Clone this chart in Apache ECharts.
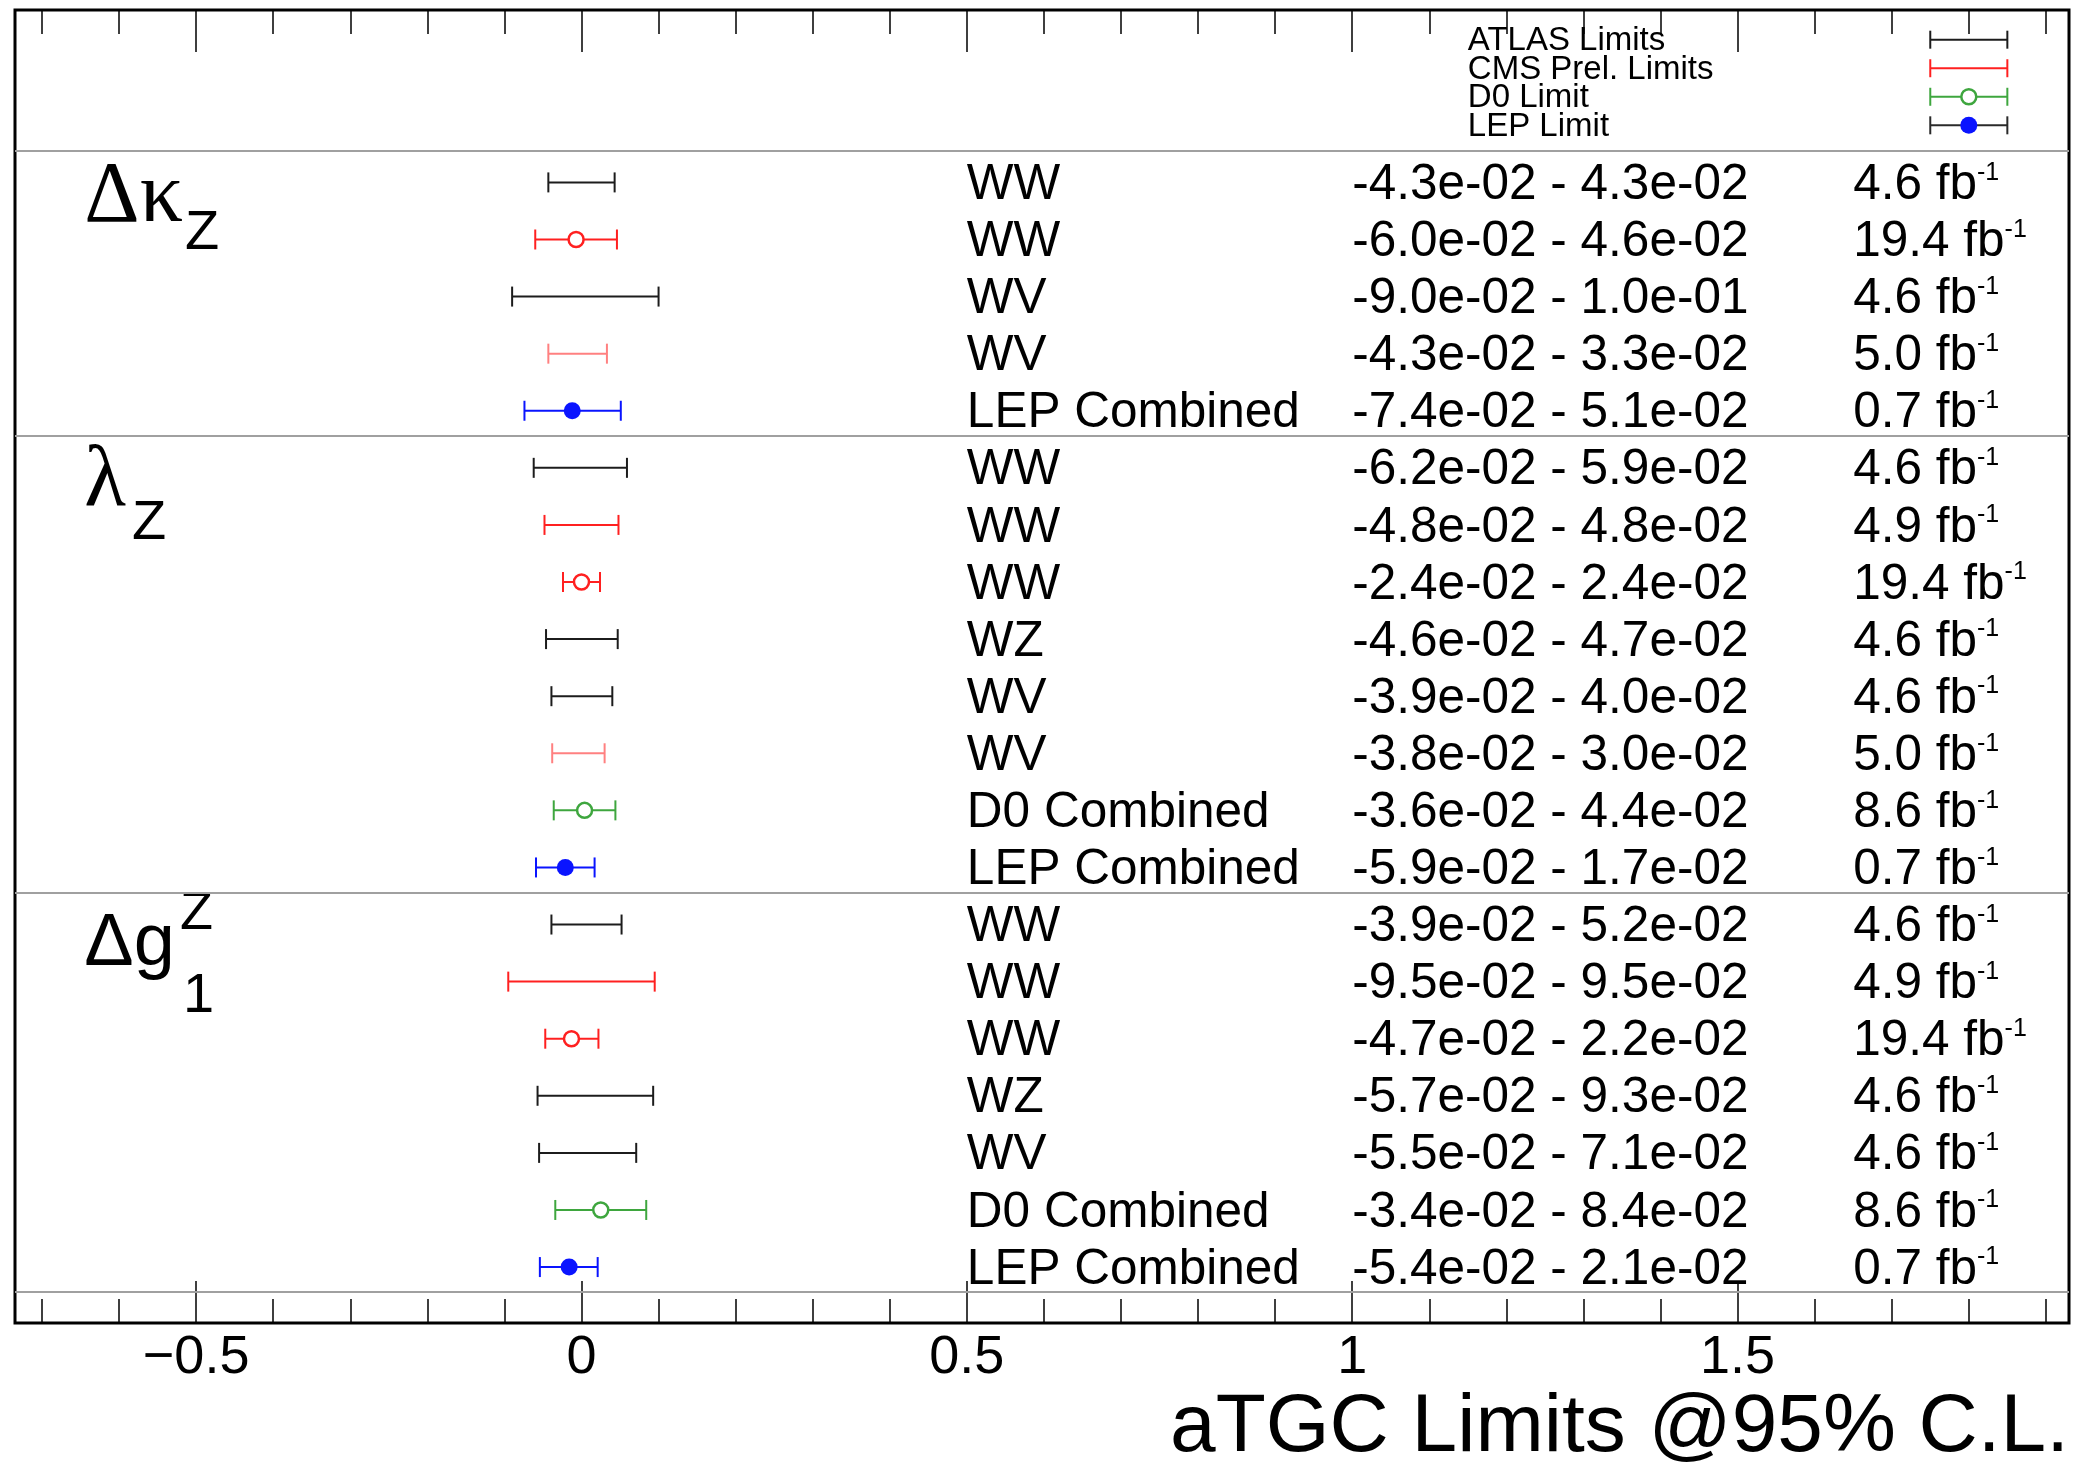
<!DOCTYPE html>
<html>
<head>
<meta charset="utf-8">
<title>aTGC Limits @95% C.L.</title>
<script src="https://cdn.jsdelivr.net/npm/echarts@6/dist/echarts.min.js"></script>
<style>
html, body { margin: 0; padding: 0; background: #fff; }
#main { width: 2077px; height: 1463px; }
</style>
</head>
<body>
<div id="main"></div>
<script>
// one entry per row, top to bottom
const experiments = ['ATLAS', 'CMS', 'ATLAS', 'CMS-WV', 'LEP',
    'ATLAS', 'CMS', 'CMS', 'ATLAS', 'ATLAS', 'CMS-WV', 'D0', 'LEP',
    'ATLAS', 'CMS', 'CMS', 'ATLAS', 'ATLAS', 'D0', 'LEP'];
const processes = ['WW', 'WW', 'WV', 'WV', 'LEP Combined',
    'WW', 'WW', 'WW', 'WZ', 'WV', 'WV', 'D0 Combined', 'LEP Combined',
    'WW', 'WW', 'WW', 'WZ', 'WV', 'D0 Combined', 'LEP Combined'];
const lowLimits = [-0.043, -0.060, -0.090, -0.043, -0.074,
    -0.062, -0.048, -0.024, -0.046, -0.039, -0.038, -0.036, -0.059,
    -0.039, -0.095, -0.047, -0.057, -0.055, -0.034, -0.054];
const highLimits = [0.043, 0.046, 0.100, 0.033, 0.051,
    0.059, 0.048, 0.024, 0.047, 0.040, 0.030, 0.044, 0.017,
    0.052, 0.095, 0.022, 0.093, 0.071, 0.084, 0.021];
// central values (only drawn where a marker is shown)
const centres = [null, -0.007, null, null, -0.012,
    null, null, 0.000, null, null, null, 0.004, -0.021,
    null, null, -0.013, null, null, 0.025, -0.016];
const lumis = ['4.6', '19.4', '4.6', '5.0', '0.7',
    '4.6', '4.9', '19.4', '4.6', '4.6', '5.0', '8.6', '0.7',
    '4.6', '4.9', '19.4', '4.6', '4.6', '8.6', '0.7'];

// coupling labels and the row each block starts on
const paramMain = ['Δκ', 'λ', 'Δg'];
const paramSub = ['Z', 'Z', '1'];
const paramSup = ['', '', 'Z'];
const paramRows = [1, 6, 14];
// block separators (in row units)
const separators = [0.44, 5.44, 13.45, 20.43];

// legend
const legendNames = ['ATLAS Limits', 'CMS Prel. Limits', 'D0 Limit', 'LEP Limit'];
const legendKeys = ['ATLAS', 'CMS', 'D0', 'LEP'];
const legendRows = [-1.5, -1.0, -0.5, 0.0];
const legendBar = [1.75, 1.80, 1.85];

// axis ticks
const majorTicks = [-0.5, 0, 0.5, 1, 1.5];
const minorTicks = [-0.7, -0.6, -0.5, -0.4, -0.3, -0.2, -0.1, 0, 0.1, 0.2, 0.3, 0.4, 0.5, 0.6, 0.7,
    0.8, 0.9, 1.0, 1.1, 1.2, 1.3, 1.4, 1.5, 1.6, 1.7, 1.8, 1.9];

const xMin = -0.735, xMax = 1.93;
const yMin = -2.02, yMax = 20.98;
const textCols = [0.5, 1.0, 1.65];
const legendTextX = 1.15;
const paramX = -0.645;

const colourMap = {
    'ATLAS': '#1c1c1c',
    'CMS': '#ff2020',
    'CMS-WV': '#ff8080',
    'D0': '#3ea63e',
    'LEP': '#0a14ff'
};
const legendBarColour = { 'ATLAS': '#1c1c1c', 'CMS': '#ff2020', 'D0': '#3ea63e', 'LEP': '#2a2a2a' };

const sans = "'Liberation Sans', Arial, sans-serif";
const serif = "'Liberation Serif', 'DejaVu Serif', serif";
const rowFont = 49.5;

const mctx = document.createElement('canvas').getContext('2d');
function textWidth(t, font) {
    mctx.font = font;
    return mctx.measureText(t).width;
}

// text element placed by its baseline
function txt(x, baseline, text, size, family, align) {
    const font = size + 'px ' + family;
    return {
        type: 'text', x: x, y: baseline - 0.345 * size,
        style: { text: text, font: font, fill: '#000', align: align || 'left', verticalAlign: 'middle' }
    };
}

function fmtLimit(v) {
    return v.toExponential(1).replace(/e([+-])(\d)$/, 'e$10$2');
}

function errorBar(lo, hi, colour, half) {
    const st = { stroke: colour, lineWidth: 2 };
    return [
        { type: 'line', shape: { x1: lo[0], y1: lo[1], x2: hi[0], y2: hi[1] }, style: st },
        { type: 'line', shape: { x1: lo[0], y1: lo[1] - half, x2: lo[0], y2: lo[1] + half }, style: st },
        { type: 'line', shape: { x1: hi[0], y1: hi[1] - half, x2: hi[0], y2: hi[1] + half }, style: st }
    ];
}

function renderBar(params, api) {
    const lo = api.coord([api.value(0), api.value(2)]);
    const hi = api.coord([api.value(1), api.value(2)]);
    return { type: 'group', children: errorBar(lo, hi, colourMap[experiments[params.dataIndex]], 10) };
}

function renderLegendBar(params, api) {
    const lo = api.coord([api.value(0), api.value(2)]);
    const hi = api.coord([api.value(1), api.value(2)]);
    return { type: 'group', children: errorBar(lo, hi, legendBarColour[legendKeys[params.dataIndex]], 9) };
}

function renderRowText(params, api) {
    const i = params.dataIndex;
    const y = api.coord([0, i + 1])[1] + 20;
    const x0 = api.coord([textCols[0], 0])[0];
    const x1 = api.coord([textCols[1], 0])[0];
    const x2 = api.coord([textCols[2], 0])[0];
    const lumText = lumis[i] + ' fb';
    const lumW = textWidth(lumText, rowFont + 'px ' + sans);
    return {
        type: 'group', children: [
            txt(x0, y, processes[i], rowFont, sans),
            txt(x1, y, fmtLimit(lowLimits[i]) + ' - ' + fmtLimit(highLimits[i]), rowFont, sans),
            txt(x2, y, lumText, rowFont, sans),
            txt(x2 + lumW, y - 21, '-1', 25, sans)
        ]
    };
}

function renderParam(params, api) {
    const i = params.dataIndex;
    const p = api.coord([paramX, paramRows[i]]);
    const children = [];
    if (i === 2) {
        const w = textWidth(paramMain[i], '74px ' + sans);
        children.push(txt(p[0], p[1] + 46, paramMain[i], 74, sans));
        children.push(txt(p[0] + w + 5, p[1] + 8, paramSup[i], 54, sans));
        children.push(txt(p[0] + w + 8, p[1] + 91, paramSub[i], 56, sans));
    } else {
        const w = textWidth(paramMain[i], '86px ' + serif);
        const base = i === 0 ? 46 : 44;
        const subBase = i === 0 ? 70 : 75;
        children.push(txt(p[0], p[1] + base, paramMain[i], 86, serif));
        children.push(txt(p[0] + w + (i === 0 ? 2 : 6), p[1] + subBase, paramSub[i], 56, sans));
    }
    return { type: 'group', children: children };
}

function renderLegendText(params, api) {
    const i = params.dataIndex;
    const p = api.coord([legendTextX, legendRows[i]]);
    return txt(p[0], p[1] + 13, legendNames[i], 33, sans);
}

// one grid carries the long ticks + labels, a twin grid carries the short ticks
const gridBox = { left: 15, right: 8, top: 10, bottom: 140, outerBoundsMode: 'none' };

function axisDef(gridIndex, position, ticks, len, withLabels) {
    return {
        type: 'value', gridIndex: gridIndex, position: position, min: xMin, max: xMax,
        axisLine: { show: false, onZero: false },
        splitLine: { show: false },
        axisTick: { show: true, inside: true, length: len, customValues: ticks, lineStyle: { color: '#000', width: 1.5 } },
        axisLabel: {
            show: withLabels, customValues: ticks, margin: 8, fontSize: 54, fontFamily: sans, color: '#000',
            formatter: v => (v < 0 ? '\u2212' + Math.abs(v) : String(v))
        }
    };
}

// markers
const openMarkers = [];
const filledMarkers = [];
centres.forEach((c, i) => {
    if (c === null) return;
    const exp = experiments[i];
    if (exp === 'LEP') {
        filledMarkers.push({ value: [c, i + 1] });
    } else {
        openMarkers.push({ value: [c, i + 1], itemStyle: { borderColor: colourMap[exp] } });
    }
});
openMarkers.push({ value: [legendBar[1], legendRows[2]], itemStyle: { borderColor: colourMap['D0'] } });
filledMarkers.push({ value: [legendBar[1], legendRows[3]] });

const chart = echarts.init(document.getElementById('main'));

const option = {
    backgroundColor: '#fff',
    animation: false,
    grid: [
        Object.assign({ show: true, borderColor: '#000', borderWidth: 3 }, gridBox),
        Object.assign({ show: false }, gridBox)
    ],
    xAxis: [
        axisDef(0, 'bottom', majorTicks, 42, true),
        axisDef(0, 'top', majorTicks, 42, false),
        axisDef(1, 'bottom', minorTicks, 24, false),
        axisDef(1, 'top', minorTicks, 24, false)
    ],
    yAxis: [
        { type: 'value', gridIndex: 0, inverse: true, min: yMin, max: yMax, show: false },
        { type: 'value', gridIndex: 1, inverse: true, min: yMin, max: yMax, show: false }
    ],
    graphic: [{
        type: 'text', x: 2069, y: 1428,
        style: { text: 'aTGC Limits @95% C.L.', font: '82px ' + sans, fill: '#000', align: 'right', verticalAlign: 'middle' }
    }],
    series: [
        {
            type: 'custom',
            name: 'limits',
            renderItem: renderBar,
            encode: { x: [0, 1], y: 2 },
            data: processes.map((_, i) => [lowLimits[i], highLimits[i], i + 1]),
            markLine: {
                silent: true,
                symbol: 'none',
                label: { show: false },
                lineStyle: { color: '#a0a0a0', width: 2, type: 'solid' },
                data: separators.map(v => ({ yAxis: v }))
            },
            z: 3
        },
        {
            type: 'custom',
            name: 'legendBars',
            renderItem: renderLegendBar,
            encode: { x: [0, 1], y: 2 },
            data: legendRows.map(r => [legendBar[0], legendBar[2], r]),
            z: 3
        },
        {
            type: 'scatter',
            name: 'open',
            symbol: 'circle',
            symbolSize: 15,
            itemStyle: { color: '#fff', borderWidth: 2.5, opacity: 1 },
            data: openMarkers,
            z: 5
        },
        {
            type: 'scatter',
            name: 'filled',
            symbol: 'circle',
            symbolSize: 17,
            itemStyle: { color: colourMap['LEP'], opacity: 1 },
            data: filledMarkers,
            z: 5
        },
        {
            type: 'custom',
            name: 'rowText',
            renderItem: renderRowText,
            data: processes.map((_, i) => [i]),
            z: 4
        },
        {
            type: 'custom',
            name: 'params',
            renderItem: renderParam,
            data: paramRows.map((r, i) => [i]),
            z: 4
        },
        {
            type: 'custom',
            name: 'legendText',
            renderItem: renderLegendText,
            data: legendNames.map((_, i) => [i]),
            z: 4
        }
    ]
};

chart.setOption(option);
</script>
</body>
</html>
